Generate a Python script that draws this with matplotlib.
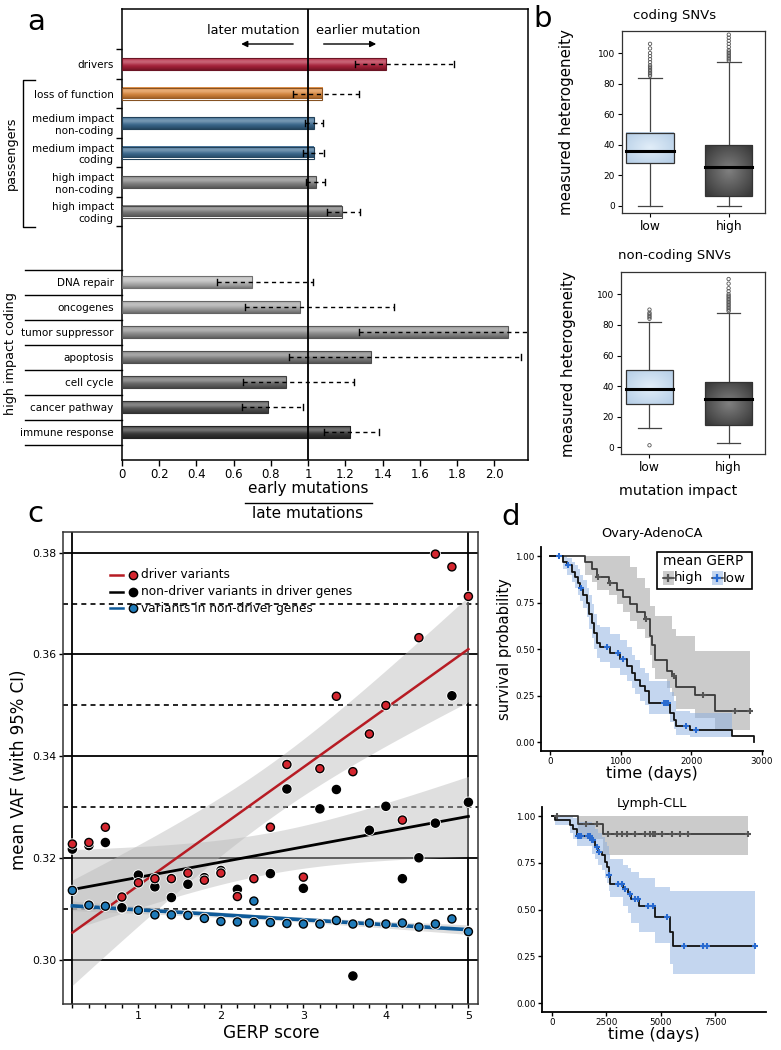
import matplotlib
matplotlib.use('agg')
import matplotlib.pyplot as plt
import matplotlib.patheffects as pe
from matplotlib.colors import LinearSegmentedColormap, to_rgb
from matplotlib.lines import Line2D
from matplotlib.patches import Rectangle
import matplotlib.transforms as mtransforms
import numpy as np

W, H = 781, 1050

# ---------------- panel a data ----------------
passenger_labels = ['drivers', 'loss of function', 'medium impact\nnon-coding',
                    'medium impact\ncoding', 'high impact\nnon-coding', 'high impact\ncoding']
passenger_ratio = [1.42, 1.075, 1.03, 1.03, 1.04, 1.18]
passenger_lo = [1.25, 0.92, 0.98, 0.97, 0.99, 1.10]
passenger_hi = [1.78, 1.27, 1.08, 1.085, 1.09, 1.28]
passenger_colors = ['#b3213c', '#e0893a', '#3b6c94', '#3b6c94', '#858585', '#7a7a7a']

coding_labels = ['DNA repair', 'oncogenes', 'tumor suppressor', 'apoptosis',
                 'cell cycle', 'cancer pathway', 'immune response']
coding_ratio = [0.70, 0.955, 2.07, 1.335, 0.88, 0.785, 1.225]
coding_lo = [0.51, 0.66, 1.275, 0.895, 0.65, 0.645, 1.085]
coding_hi = [1.025, 1.46, 2.40, 2.14, 1.245, 0.97, 1.38]
coding_colors = ['#bababa', '#a6a6a6', '#939393', '#828282', '#6b6b6b', '#545454', '#383838']

ratio_ticks = [0, 0.2, 0.4, 0.6, 0.8, 1, 1.2, 1.4, 1.6, 1.8, 2.0]
ratio_ticklabels = ['0', '0.2', '0.4', '0.6', '0.8', '1', '1.2', '1.4', '1.6', '1.8', '2.0']

# ---------------- panel b data (box stats: whisker lo, q1, median, q3, whisker hi) ----------------
impact_groups = ['low', 'high']
coding_box = [[0, 27.9, 36.2, 47.6, 83.8], [0, 6.8, 25.8, 40.0, 94.3]]
coding_out = [[85, 86, 87, 88, 89, 90, 91, 92, 94, 96, 98, 100, 103, 106],
              [95, 96, 97, 98, 99, 100, 101, 102, 104, 106, 108, 110, 112]]
noncoding_box = [[12.8, 28.2, 38.4, 50.3, 81.8], [3.0, 14.5, 31.5, 42.5, 87.9]]
noncoding_out = [[1.3, 84, 85, 86, 87, 88, 90],
                 [89, 90, 91, 92, 93, 94, 95, 96, 97, 98, 99, 100, 102, 104, 107, 110]]

# ---------------- panel c data ----------------
gerp = [0.2, 0.4, 0.6, 0.8, 1.0, 1.2, 1.4, 1.6, 1.8, 2.0, 2.2, 2.4, 2.6,
        2.8, 3.0, 3.2, 3.4, 3.6, 3.8, 4.0, 4.2, 4.4, 4.6, 4.8, 5.0]
vaf_driver = [0.3228, 0.3231, 0.3261, 0.3124, 0.3152, 0.3160, 0.3160, 0.3171, 0.3157, 0.3171,
              0.3125, 0.3160, 0.3261, 0.3384, 0.3163, 0.3376, 0.3518, 0.3370, 0.3444, 0.3500,
              0.3275, 0.3633, 0.3797, 0.3772, 0.3714]
vaf_nondriver_in_driver = [0.3218, 0.3225, 0.3231, 0.3103, 0.3167, 0.3144, 0.3123, 0.3149, 0.3162,
                           0.3176, 0.3139, 0.3160, 0.3170, 0.3336, 0.3141, 0.3297, 0.3335, 0.2969,
                           0.3255, 0.3302, 0.3160, 0.3201, 0.3269, 0.3519, 0.3310]
# non-driver genes show two points in the 2.4 bin
gerp_nondriver_genes = [0.2, 0.4, 0.6, 0.8, 1.0, 1.2, 1.4, 1.6, 1.8, 2.0, 2.2, 2.4, 2.4, 2.6,
                        2.8, 3.0, 3.2, 3.4, 3.6, 3.8, 4.0, 4.2, 4.4, 4.6, 4.8, 5.0]
vaf_nondriver_genes = [0.3137, 0.3108, 0.3106, 0.3102, 0.3098, 0.3089, 0.3089, 0.3088, 0.3082,
                       0.3076, 0.3075, 0.3116, 0.3074, 0.3074, 0.3072, 0.3071, 0.3071, 0.3078,
                       0.3071, 0.3073, 0.3071, 0.3073, 0.3065, 0.3071, 0.3081, 0.3056]

# ---------------- panel d data (Kaplan-Meier steps) ----------------
ov_high_t = [0, 496, 590, 671, 836, 945, 1039, 1134, 1228, 1346, 1417, 1441, 1488, 1653,
             1725, 1780, 2054, 2338, 2834]
ov_high_s = [1.0, 0.969, 0.93, 0.889, 0.855, 0.82, 0.78, 0.74, 0.70, 0.66, 0.57, 0.52, 0.443,
             0.384, 0.354, 0.295, 0.252, 0.170, 0.170]
ov_high_lo = [1.0, 0.90, 0.86, 0.82, 0.79, 0.74, 0.70, 0.65, 0.61, 0.56, 0.47, 0.40, 0.34,
              0.29, 0.25, 0.18, 0.13, 0.068, 0.068]
ov_high_hi = [1.0, 1.0, 1.0, 1.0, 1.0, 1.0, 1.0, 0.94, 0.88, 0.83, 0.73, 0.73, 0.68, 0.68,
              0.61, 0.57, 0.49, 0.49, 0.49]
ov_high_cens = [685, 850, 1360, 1757, 2173, 2621, 2834]

ov_low_t = [0, 189, 236, 307, 354, 402, 425, 472, 520, 553, 591, 624, 661, 709, 850, 992,
            1087, 1157, 1205, 1275, 1346, 1403, 1701, 1757, 1786, 1984, 2575, 2882]
ov_low_s = [1.0, 0.97, 0.95, 0.916, 0.89, 0.853, 0.826, 0.79, 0.746, 0.69, 0.64, 0.586, 0.532,
            0.514, 0.479, 0.445, 0.407, 0.371, 0.336, 0.30, 0.273, 0.21, 0.157, 0.121, 0.086,
            0.068, 0.032, 0.0]
ov_low_hi = [1.0, 1.0, 0.99, 0.97, 0.95, 0.93, 0.90, 0.87, 0.83, 0.79, 0.74, 0.69, 0.63, 0.62,
             0.58, 0.55, 0.51, 0.47, 0.44, 0.40, 0.37, 0.33, 0.27, 0.22, 0.17, 0.16, 0.16]
ov_low_lo = [1.0, 0.93, 0.90, 0.86, 0.83, 0.79, 0.76, 0.72, 0.67, 0.61, 0.56, 0.50, 0.45, 0.43,
             0.40, 0.36, 0.33, 0.29, 0.26, 0.22, 0.20, 0.15, 0.11, 0.07, 0.04, 0.03, 0.03]
ov_low_cens = [132, 250, 439, 813, 959, 1039, 1616, 1640, 1667, 1923, 2069]

ly_high_t = [0, 1222, 2367, 9009]
ly_high_s = [1.0, 0.955, 0.905, 0.905]
ly_high_lo = [1.0, 0.88, 0.79, 0.79]
ly_high_hi = [1.0, 1.0, 1.0, 1.0]
ly_high_cens = [260, 1558, 2092, 2596, 2978, 3207, 3466, 3818, 4276, 4505, 4658, 4734, 5039,
                5497, 5879, 6261, 9009]

ly_low_t = [0, 151, 839, 991, 1146, 1834, 1985, 2138, 2293, 2444, 2522, 2627, 2673, 3284,
            3513, 3622, 4003, 4736, 5424, 5548, 9340]
ly_low_s = [1.0, 0.979, 0.952, 0.930, 0.895, 0.871, 0.836, 0.809, 0.791, 0.755, 0.728, 0.684,
            0.639, 0.613, 0.586, 0.559, 0.518, 0.461, 0.380, 0.307, 0.307]
ly_low_hi = [1.0, 1.0, 1.0, 0.99, 0.97, 0.95, 0.93, 0.91, 0.89, 0.86, 0.84, 0.80, 0.77, 0.74,
             0.72, 0.70, 0.67, 0.62, 0.60, 0.60, 0.60]
ly_low_lo = [1.0, 0.95, 0.91, 0.88, 0.84, 0.80, 0.77, 0.74, 0.71, 0.67, 0.64, 0.60, 0.57, 0.52,
             0.48, 0.43, 0.38, 0.32, 0.21, 0.155, 0.155]
ly_low_cens = [1206, 1283, 1359, 1680, 1756, 1834, 1909, 2063, 2183, 2627, 3055, 3207, 3360,
               3589, 3819, 3943, 4430, 4659, 5273, 6066, 6924, 7107, 9340]


def box(l, t, r, b):
    # pixel box -> figure fraction rect
    return [l / W, 1 - b / H, (r - l) / W, (b - t) / H]


def fx(x):
    return x / W


def fy(y):
    return 1 - y / H


def fig_line(fig, xs, ys, **kw):
    fig.add_artist(Line2D([fx(x) for x in xs], [fy(y) for y in ys],
                          transform=fig.transFigure, **kw))


fig = plt.figure(figsize=(W / 100, H / 100), dpi=100)

for lab, x, y in [('a', 36, 22), ('b', 543, 19), ('c', 35, 514), ('d', 511, 517)]:
    fig.text(fx(x), fy(y), lab, fontsize=21, ha='center', va='center')


# ================= panel a =================
def shade_bar(ax, y, width, h, color):
    c = np.array(to_rgb(color))
    t = np.linspace(0, 1, 24)
    light = 0.30 * np.exp(-((t - 0.3) / 0.25) ** 2)
    dark = 0.35 * t ** 3
    rows = c * (1 - light[:, None]) + light[:, None]
    rows = rows * (1 - dark[:, None])
    ax.imshow(rows[:, None, :], extent=[0, width, y + h / 2, y - h / 2], aspect='auto',
              interpolation='bilinear', zorder=2)
    ax.add_patch(Rectangle((0, y - h / 2), width, h, fill=False,
                           ec=tuple(c * 0.6), lw=0.8, zorder=3))


axa = fig.add_axes(box(122, 9, 528, 460))
y_up = [64 + 29.5 * i for i in range(len(passenger_labels))]
y_low = [282 + 25 * j for j in range(len(coding_labels))]
bar_h = 12

for y, r, lo, hi, col in zip(y_up + y_low, passenger_ratio + coding_ratio,
                             passenger_lo + coding_lo, passenger_hi + coding_hi,
                             passenger_colors + coding_colors):
    shade_bar(axa, y, r, bar_h, col)
    axa.plot([lo, hi], [y, y], color='black', lw=1, ls=(0, (3, 2.6)), zorder=4)
    for v in (lo, hi):
        axa.plot([v, v], [y - 3, y + 3], color='black', lw=1, zorder=4)

axa.axvline(1, color='black', lw=1.3, zorder=5)
axa.set_xlim(0, 2.18)
axa.set_ylim(460, 9)
axa.set_xticks(ratio_ticks, ratio_ticklabels, fontsize=8.5)
axa.set_yticks(y_up + y_low, passenger_labels + coding_labels, fontsize=7.5)
axa.tick_params(axis='y', which='major', length=0, pad=6)
axa.tick_params(axis='x', length=4, width=1, pad=2)
axa.set_yticks([49.25 + 29.5 * k for k in range(7)], minor=True)
axa.tick_params(axis='y', which='minor', length=4, width=1)
for s in axa.spines.values():
    s.set_linewidth(1.1)

trans = mtransforms.blended_transform_factory(axa.transAxes, axa.transData)
for k in range(8):
    yb = 269.5 + 25 * k
    axa.plot([(25 - 122) / 406, 0], [yb, yb], color='black', lw=1, transform=trans, clip_on=False)

axa.text(0.952, 31, 'later mutation', ha='right', va='center', fontsize=9.3)
axa.text(1.043, 31, 'earlier mutation', ha='left', va='center', fontsize=9.3)
axa.annotate('', xy=(0.625, 44), xytext=(0.934, 44),
             arrowprops=dict(arrowstyle='-|>', lw=1, color='black', mutation_scale=9))
axa.annotate('', xy=(1.38, 44), xytext=(1.068, 44),
             arrowprops=dict(arrowstyle='-|>', lw=1, color='black', mutation_scale=9))

fig_line(fig, [35, 23, 23, 35], [80, 80, 227, 227], color='black', lw=1)
fig.text(fx(11), fy(153), 'passengers', rotation=90, ha='center', va='center', fontsize=9.2)
fig.text(fx(11), fy(354), 'high impact coding', rotation=90, ha='center', va='center', fontsize=9.2)

fig.text(fx(308), fy(489), 'early mutations', ha='center', va='center', fontsize=11)
fig_line(fig, [245, 372], [502.5, 502.5], color='black', lw=1)
fig.text(fx(308), fy(513), 'late mutations', ha='center', va='center', fontsize=11)


# ================= panel b =================
def draw_box(ax, x, stats, outs, c_center, c_edge):
    wlo, q1, med, q3, whi = stats
    bw = 0.6
    yy, xx = np.mgrid[-1:1:60j, -1:1:60j]
    r = np.clip(np.sqrt(xx ** 2 + yy ** 2) / 1.3, 0, 1)
    cmap = LinearSegmentedColormap.from_list('g', [c_center, c_edge])
    ax.imshow(r, cmap=cmap, vmin=0, vmax=1, extent=[x - bw / 2, x + bw / 2, q1, q3],
              aspect='auto', origin='lower', interpolation='bilinear', zorder=2)
    ax.add_patch(Rectangle((x - bw / 2, q1), bw, q3 - q1, fill=False, ec='#333333', lw=0.9, zorder=3))
    ax.plot([x, x], [q3, whi], color='#444444', lw=0.9, zorder=1)
    ax.plot([x, x], [wlo, q1], color='#444444', lw=0.9, zorder=1)
    for v in (wlo, whi):
        ax.plot([x - 0.15, x + 0.15], [v, v], color='#444444', lw=0.9, zorder=1)
    ax.plot([x - bw / 2, x + bw / 2], [med, med], color='black', lw=2.2, zorder=4)
    ax.scatter([x] * len(outs), outs, s=6, facecolors='none', edgecolors='#555555',
               linewidths=0.6, zorder=3)


for rect, title, title_y, stats_list, outs_list in [
        (box(621.7, 31, 765, 212.7), 'coding SNVs', 15, coding_box, coding_out),
        (box(621, 272.3, 765, 454), 'non-coding SNVs', 256, noncoding_box, noncoding_out)]:
    axb = fig.add_axes(rect)
    for i, (st, ou) in enumerate(zip(stats_list, outs_list)):
        if i == 0:
            draw_box(axb, i + 1, st, ou, '#e2eef9', '#b7cfe7')
        else:
            draw_box(axb, i + 1, st, ou, '#808080', '#3a3a3a')
    axb.set_xlim(0.64, 2.46)
    axb.set_ylim(-4.4, 114.4)
    axb.set_xticks([1, 2], impact_groups, fontsize=8.8)
    axb.set_yticks([0, 20, 40, 60, 80, 100])
    axb.tick_params(axis='y', labelsize=6.5, length=3, pad=2)
    axb.tick_params(axis='x', length=3, pad=2)
    for s in axb.spines.values():
        s.set_linewidth(0.9)
        s.set_color('#333333')
    fig.text(fx(675), fy(title_y), title, ha='center', va='center', fontsize=9.5)

fig.text(fx(566), fy(122), 'measured heterogeneity', rotation=90, ha='center', va='center', fontsize=10.8)
fig.text(fx(569), fy(364), 'measured heterogeneity', rotation=90, ha='center', va='center', fontsize=10.8)
fig.text(fx(678), fy(491), 'mutation impact', ha='center', va='center', fontsize=10.3)


# ================= panel c =================
def ols_band(x, y, xs):
    x = np.asarray(x)
    y = np.asarray(y)
    n = len(x)
    b, a = np.polyfit(x, y, 1)
    fit = a + b * xs
    resid = y - (a + b * x)
    s = np.sqrt(np.sum(resid ** 2) / (n - 2))
    se = s * np.sqrt(1 / n + (xs - x.mean()) ** 2 / np.sum((x - x.mean()) ** 2))
    return fit, fit - 2.069 * se, fit + 2.069 * se


axc = fig.add_axes(box(63.3, 531.7, 478.3, 1004))
for v in [0.30, 0.32, 0.34, 0.36, 0.38]:
    axc.axhline(v, color='black', lw=1.3, zorder=1)
for v in [0.31, 0.33, 0.35, 0.37]:
    axc.axhline(v, color='black', lw=1.2, ls=(0, (3, 2.5)), zorder=1)
axc.axvline(gerp[0], color='black', lw=1.3, zorder=1)
axc.axvline(gerp[-1], color='black', lw=1.3, zorder=1)

xs = np.linspace(gerp[0], gerp[-1], 100)
series = [(gerp, vaf_driver, '#b71c24', 1.8),
          (gerp, vaf_nondriver_in_driver, '#000000', 2.0),
          (gerp_nondriver_genes, vaf_nondriver_genes, '#0e5a99', 2.6)]
for gx, vals, lc, lw in series:
    fit, lo, hi = ols_band(gx, vals, xs)
    axc.fill_between(xs, lo, hi, color='#b9b9b9', alpha=0.45, lw=0, zorder=2)
    axc.plot(xs, fit, color=lc, lw=lw, zorder=3)

halo = [pe.Stroke(linewidth=2.2, foreground='white'), pe.Normal()]
for gx, vals, pc in [(gerp_nondriver_genes, vaf_nondriver_genes, '#1f7ab8'),
                     (gerp, vaf_nondriver_in_driver, '#000000'),
                     (gerp, vaf_driver, '#d4262f')]:
    axc.scatter(gx, vals, s=34, c=pc, edgecolors='black', linewidths=1, zorder=5,
                path_effects=halo)

axc.set_xlim(0.09, 5.12)
axc.set_ylim(0.2914, 0.3841)
axc.set_xticks(gerp, [f'{v:g}' if float(v).is_integer() else '' for v in gerp], fontsize=8)
axc.set_yticks([0.30, 0.32, 0.34, 0.36, 0.38], ['0.30', '0.32', '0.34', '0.36', '0.38'], fontsize=7.8)
axc.tick_params(length=3, width=1, pad=2)
for s in axc.spines.values():
    s.set_linewidth(1.1)
    s.set_color('#333333')
axc.set_xlabel('GERP score', fontsize=12.2, labelpad=2)
fig.text(fx(19), fy(770), 'mean VAF (with 95% CI)', rotation=90, ha='center', va='center', fontsize=12)

legend_rows = [('driver variants', '#b71c24', '#d4262f', 575),
               ('non-driver variants in driver genes', '#000000', '#000000', 591.7),
               ('variants in non-driver genes', '#0e5a99', '#1f7ab8', 608.3)]
for txt, lc, pc, ly in legend_rows:
    fig_line(fig, [110, 123], [ly, ly], color=lc, lw=1.8)
    fig.add_artist(Line2D([fx(133)], [fy(ly)], transform=fig.transFigure, marker='o',
                          markersize=6, markerfacecolor=pc, markeredgecolor='black', mew=1, ls='none'))
    fig.text(fx(140.7), fy(ly), txt, ha='left', va='center', fontsize=8.7)


# ================= panel d =================
def step_value(t, s, q):
    idx = np.searchsorted(t, q, side='right') - 1
    return np.asarray(s)[idx]


def km(ax, t, s, lo, hi, cens, line_c, cens_c, band_c):
    t = np.asarray(t, dtype=float)
    n = len(lo)
    ax.fill_between(t[:n], lo, hi, step='post', color=band_c, alpha=0.5, lw=0, zorder=1)
    ax.step(t, s, where='post', color=line_c, lw=1.3, zorder=3)
    cv = step_value(t, s, np.asarray(cens))
    ax.plot(cens, cv, ls='none', marker='+', ms=5, mew=1.5, color=cens_c, zorder=4)


def style_km(ax, xlim, xticks, title, title_y):
    ax.set_xlim(*xlim)
    ax.set_ylim(-0.045, 1.05)
    ax.set_xticks(xticks)
    ax.set_yticks([0, 0.25, 0.5, 0.75, 1.0], ['0.00', '0.25', '0.50', '0.75', '1.00'])
    ax.tick_params(labelsize=6.3, length=3, width=1, pad=1.5)
    ax.spines['top'].set_visible(False)
    ax.spines['right'].set_visible(False)
    ax.spines['left'].set_linewidth(1.3)
    ax.spines['bottom'].set_linewidth(1.3)
    ax.set_xlabel('time (days)', fontsize=11.5, labelpad=0)
    fig.text(fx(652), fy(title_y), title, ha='center', va='center', fontsize=9.3)


axd1 = fig.add_axes(box(540.7, 546.7, 762.7, 750.7))
km(axd1, ov_high_t, ov_high_s, ov_high_lo, ov_high_hi, ov_high_cens, '#3a3a3a', '#555555', '#999999')
km(axd1, ov_low_t, ov_low_s, ov_low_lo, ov_low_hi, ov_low_cens, '#111111', '#2a6bd0', '#8aaee0')
style_km(axd1, (-132, 3012), [0, 1000, 2000, 3000], 'Ovary-AdenoCA', 534)

axd2 = fig.add_axes(box(541.7, 806.7, 765.7, 1011.7))
km(axd2, ly_high_t, ly_high_s, ly_high_lo, ly_high_hi, ly_high_cens, '#3a3a3a', '#555555', '#999999')
km(axd2, ly_low_t, ly_low_s, ly_low_lo, ly_low_hi, ly_low_cens, '#111111', '#2a6bd0', '#8aaee0')
style_km(axd2, (-458, 9812), [0, 2500, 5000, 7500], 'Lymph-CLL', 803)

fig.text(fx(505), fy(649), 'survival probability', rotation=90, ha='center', va='center', fontsize=10.6)

# legend of panel d
fig.add_artist(Rectangle((fx(656.7), fy(589.3)), (751.7 - 656.7) / W, (589.3 - 551.7) / H,
                         transform=fig.transFigure, fc='white', ec='black', lw=1.2, zorder=5))
fig.text(fx(703), fy(561), 'mean GERP', ha='center', va='center', fontsize=9.8, zorder=6)
for x0, bg, mc, lab in [(662.7, '#cccccc', '#555555', 'high'), (711.7, '#c4d6ef', '#2a6bd0', 'low')]:
    fig.add_artist(Rectangle((fx(x0), fy(585)), 11 / W, 14 / H, transform=fig.transFigure,
                             fc=bg, ec='none', zorder=6))
    fig_line(fig, [x0, x0 + 11], [578, 578], color='#333333', lw=1.1, zorder=7)
    fig.add_artist(Line2D([fx(x0 + 5.5)], [fy(578)], transform=fig.transFigure, marker='+',
                          ms=6, mew=1.6, color=mc, ls='none', zorder=8))
    fig.text(fx(x0 + 11.5), fy(578), lab, ha='left', va='center', fontsize=9.6, zorder=7)

fig.savefig('out.png', dpi=100)
